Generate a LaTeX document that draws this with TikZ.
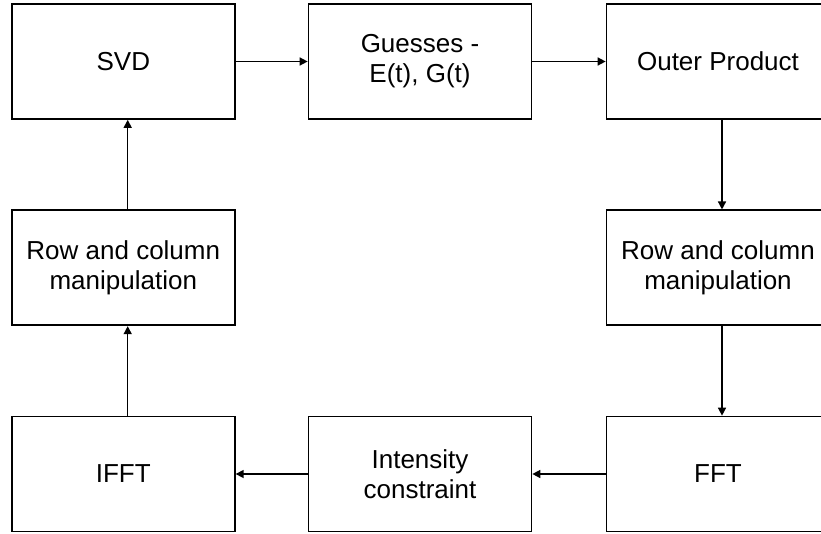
\documentclass[tikz,border=0pt]{standalone}
\usepackage{fontspec}
\setmainfont{Liberation Sans}
\usetikzlibrary{arrows.meta}
\begin{document}
\begin{tikzpicture}[x=1pt,y=1pt,
  box/.style={draw=black,line width=1.7pt,minimum width=223pt,minimum height=115pt,
    inner sep=0pt,align=center,font=\fontsize{26}{30}\selectfont},
  flow/.style={draw=black,line width=1.5pt,-{Triangle[length=8pt,width=8pt]}}]
\useasboundingbox (0,0) rectangle (821,-533);
\node[box] (svd)   at (123.3,-61.5) {SVD};
\node[box] (guess) at (420,-61.5) {Guesses -\\E(t), G(t)};
\node[box] (outer) at (718,-61.5) {Outer Product};
\node[box] (rowL)  at (123.3,-267.8) {Row and column\\manipulation};
\node[box] (rowR)  at (718,-267.8) {Row and column\\manipulation};
\node[box] (ifft)  at (123.3,-474) {IFFT};
\node[box] (inten) at (420,-474) {Intensity\\constraint};
\node[box] (fft)   at (718,-474) {FFT};
\draw[flow] (svd.east) -- (guess.west);
\draw[flow] (guess.east) -- (outer.west);
\draw[flow] ([xshift=4pt]outer.south) -- ([xshift=4pt]rowR.north);
\draw[flow] ([xshift=4pt]rowR.south) -- ([xshift=4pt]fft.north);
\draw[flow] (fft.west) -- (inten.east);
\draw[flow] (inten.west) -- (ifft.east);
\draw[flow] ([xshift=4.4pt]ifft.north) -- ([xshift=4.4pt]rowL.south);
\draw[flow] ([xshift=4.4pt]rowL.north) -- ([xshift=4.4pt]svd.south);
\end{tikzpicture}
\end{document}
